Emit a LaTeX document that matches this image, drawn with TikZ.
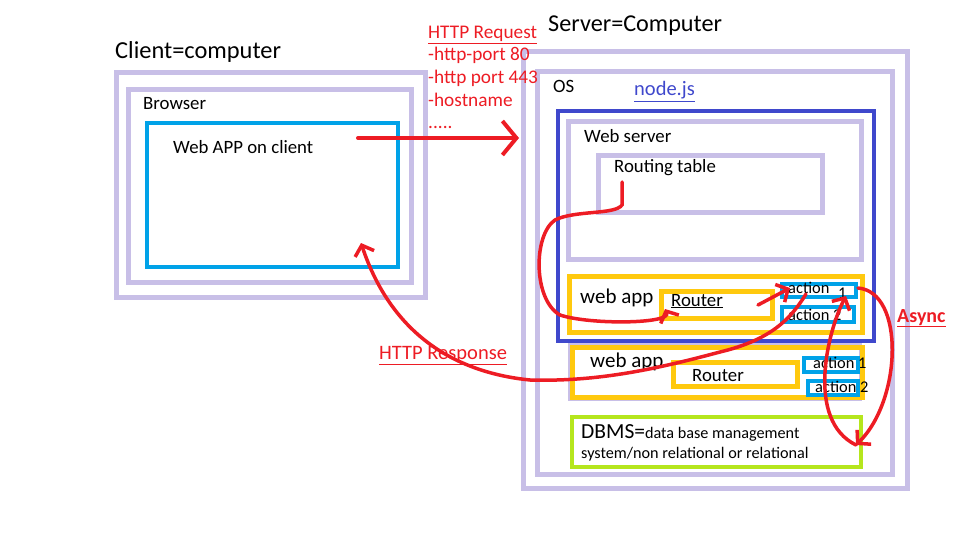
\documentclass[tikz,border=0pt]{standalone}
\usepackage{fontspec}
\setmainfont{Carlito}
\usetikzlibrary{arrows.meta}
\definecolor{lav}{HTML}{C8BFE7}
\definecolor{sky}{HTML}{00A2E8}
\definecolor{indig}{HTML}{3F48CC}
\definecolor{gold}{HTML}{FFC90E}
\definecolor{lime}{HTML}{B5E61D}
\definecolor{pen}{HTML}{ED1C24}
\newcommand{\fs}[1]{\fontsize{#1}{#1}\selectfont}
\tikzset{
	lavbox/.style = {draw = lav, line width = 5pt},
	skybox/.style = {draw = sky, line width = 4.5pt},
	indbox/.style = {draw = indig, line width = 4.5pt},
	goldbox/.style = {draw = gold, line width = 5pt},
	limebox/.style = {draw = lime, line width = 4.5pt},
	lbl/.style = {anchor = base west, inner sep = 0pt, font = \fs{18.8}},
	redlbl/.style = {lbl, text = pen, font = \fs{19.3}},
	bigarrow/.style = {draw = pen, line width = 4pt, line cap = round, -{Straight Barb[length = 14pt, width = 34pt]}},
	penarrow/.style = {draw = pen, line width = 3.5pt, line cap = round, -{Straight Barb[length = 9pt, width = 20pt]}}
}
\begin{document}
\begin{tikzpicture}[x = 1pt, y = -1pt]
	\useasboundingbox (0,0) rectangle (960,540);

	% client side
	\draw[lavbox] (116,73) rectangle (425,297);
	\draw[lavbox] (128,90) rectangle (411,282);
	\draw[skybox] (147,123) rectangle (398,267);
	\node[lbl, font = \fs{24.4}] (client) at (115,59) {Client=computer};
	\node[lbl] (browser) at (143,110) {Browser};
	\node[lbl] (webclient) at (173,154) {Web APP on client};

	% server side
	\node[lbl, font = \fs{24.2}] (server) at (548,32) {Server=Computer};
	\draw[lavbox] (523,52) rectangle (907,488);
	\draw[lavbox] (537,72) rectangle (892,474);
	\node[lbl] (os) at (553,93) {OS};
	\node[lbl, text = indig, font = \fs{20.5}] (node) at (634,96) {\underline{node.js}};
	\draw[indbox] (558,111) rectangle (874,341);
	\draw[lavbox] (568,122) rectangle (861,259);
	\node[lbl] (websrv) at (584,143) {Web server};
	\draw[lavbox] (598,156) rectangle (822,212);
	\node[lbl] (table) at (614,173) {Routing table};

	% request text
	\node[redlbl] (req) at (428,39) {\underline{HTTP Request}};
	\node[redlbl] (port80) at (428,61) {-http-port 80};
	\node[redlbl] (port443) at (428,84) {-http port 443};
	\node[redlbl] (host) at (428,107) {-hostname};
	\node[redlbl] (dots) at (428,129) {.....};

	% first web app
	\draw[goldbox] (569,276) rectangle (862,332);
	\node[lbl, font = \fs{21}] (app1) at (580,303) {web app};
	\draw[goldbox] (661,291) rectangle (772,318);
	\node[lbl] (router1) at (671,306) {\underline{Router}};
	\draw[skybox] (782,284) rectangle (856,297);
	\node[lbl, font = \fs{16.4}] (act1) at (788,293) {action};
	\node[lbl, font = \fs{16.4}] (one) at (838,298) {1};
	\draw[skybox] (782,307) rectangle (854,322);
	\node[lbl, font = \fs{16.4}] (act2) at (788,320) {action 2};

	% second web app
	\draw[draw = lav, line width = 3pt] (569,344) rectangle (860,399);
	\draw[goldbox] (572,347) rectangle (862,397);
	\node[lbl, font = \fs{21}] (app2) at (590,367) {web app};
	\draw[goldbox] (673,362) rectangle (797,386);
	\node[lbl] (router2) at (692,381) {Router};
	\draw[skybox] (804,358) rectangle (858,372);
	\node[lbl, font = \fs{16.4}] (act3) at (813,368) {action 1};
	\draw[skybox] (808,381) rectangle (858,395);
	\node[lbl, font = \fs{16.4}] (act4) at (815,392) {action 2};

	% database
	\draw[limebox] (572,417) rectangle (861,467);
	\node[lbl, font = \fs{21.5}] (dbms) at (581,438) {DBMS=\fs{16.2}data base management};
	\node[lbl, font = \fs{16.2}] (dbms2) at (581,458) {system/non relational or relational};

	\node[redlbl, font = \fs{20.5}] (resp) at (379,359) {\underline{HTTP Response}};
	\node[redlbl, font = \fs{20}\bfseries] (async) at (897,322) {\underline{Async}};

	% red pen strokes
	\coordinate (reqa) at (358,138);
	\coordinate (reqb) at (519,138);
	\draw[bigarrow] (reqa) -- (reqb);

	\coordinate (tbl) at (622,182);
	\coordinate (rtr) at (665,309);
	\draw[penarrow] (tbl) -- (622,205) .. controls (615,215) and (575,210) .. (555,220)
		.. controls (533,235) and (533,300) .. (560,315) .. controls (590,325) and (672,324) .. (rtr);

	\coordinate (rtrout) at (758,305);
	\coordinate (actin) at (790,288);
	\draw[penarrow] (rtrout) -- (actin);

	\coordinate (actout) at (806,294);
	\coordinate (cli) at (361,243);
	\draw[penarrow] (actout) .. controls (790,320) and (770,340) .. (720,352)
		.. controls (660,368) and (600,382) .. (530,380) .. controls (450,372) and (390,330) .. (cli);

	\coordinate (actr) at (858,288);
	\coordinate (db) at (856,445);
	\coordinate (actb) at (846,296);
	\draw[penarrow] (actr) .. controls (905,292) and (902,400) .. (db);
	\draw[penarrow] (db) .. controls (805,420) and (828,330) .. (actb);

\end{tikzpicture}
\end{document}
